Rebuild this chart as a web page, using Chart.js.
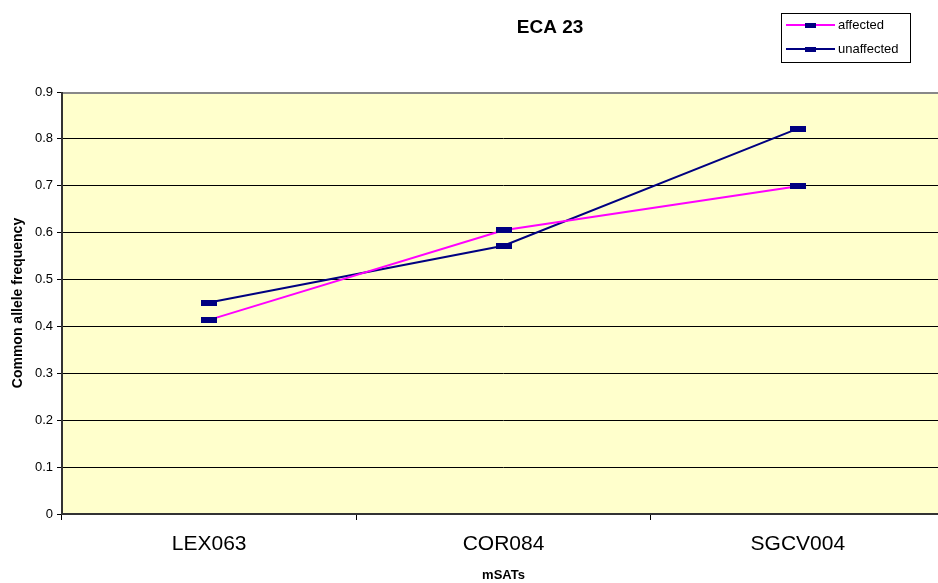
<!DOCTYPE html>
<html>
<head>
<meta charset="utf-8">
<script src="https://cdn.jsdelivr.net/npm/chart.js@4/dist/chart.umd.min.js"></script>
<style>
  html, body { margin: 0; padding: 0; background: #ffffff; overflow: hidden; width: 938px; height: 583px; }
  #wrap { position: relative; width: 955px; height: 583px; }
</style>
</head>
<body>
<div id="wrap"><canvas id="c" width="955" height="583"></canvas></div>
<script>
const chartTitle = 'ECA 23';
const xTitle = 'mSATs';
const yTitle = 'Common allele frequency';
const categories = ['LEX063', 'COR084', 'SGCV004'];
const seriesNames = ['affected', 'unaffected'];
const affected = [0.414, 0.605, 0.699];
const unaffected = [0.451, 0.572, 0.822];
const yTickLabels = ['0', '0.1', '0.2', '0.3', '0.4', '0.5', '0.6', '0.7', '0.8', '0.9'];

const FONT = '"Liberation Sans", Arial, sans-serif';
const colAffected = '#FF00FF';
const colUnaffected = '#000080';
const markerColor = '#000080';

function makeMarker() {
  const m = document.createElement('canvas');
  m.width = 16; m.height = 6;
  const g = m.getContext('2d');
  g.fillStyle = markerColor;
  g.fillRect(0, 0, 16, 6);
  return m;
}
const marker = makeMarker();

const decor = {
  id: 'decor',
  beforeDraw(chart) {
    const { ctx, chartArea: a } = chart;
    ctx.save();
    ctx.fillStyle = '#FFFFCC';
    ctx.fillRect(a.left, a.top, a.right - a.left, a.bottom - a.top);
    ctx.restore();
  },
  afterDraw(chart) {
    const { ctx, chartArea: a } = chart;
    ctx.save();
    ctx.lineWidth = 2;
    ctx.strokeStyle = '#888888';
    ctx.beginPath(); ctx.moveTo(a.left, a.top + 1); ctx.lineTo(a.right, a.top + 1); ctx.stroke();
    ctx.strokeStyle = '#333333';
    ctx.beginPath(); ctx.moveTo(a.left, a.top); ctx.lineTo(a.left, a.bottom + 1); ctx.stroke();
    ctx.beginPath(); ctx.moveTo(a.left - 1, a.bottom); ctx.lineTo(a.right, a.bottom); ctx.stroke();

    ctx.fillStyle = '#000';
    ctx.textAlign = 'center';
    ctx.textBaseline = 'middle';
    ctx.font = 'bold 19px ' + FONT;
    ctx.fillText(chartTitle, 550, 28);
    ctx.font = 'bold 13px ' + FONT;
    ctx.fillText(xTitle, (a.left + a.right) / 2, 575);
    ctx.save();
    ctx.translate(18, (a.top + a.bottom) / 2);
    ctx.rotate(-Math.PI / 2);
    ctx.font = 'bold 14px ' + FONT;
    ctx.fillText(yTitle, 0, 0);
    ctx.restore();

    ctx.fillStyle = '#fff';
    ctx.fillRect(781, 13, 129, 49);
    ctx.lineWidth = 1;
    ctx.strokeStyle = '#000';
    ctx.strokeRect(781.5, 13.5, 129, 49);
    const rows = [[seriesNames[0], colAffected, 25], [seriesNames[1], colUnaffected, 49]];
    ctx.textAlign = 'left';
    ctx.font = '13px ' + FONT;
    rows.forEach(([name, col, y]) => {
      ctx.strokeStyle = col;
      ctx.lineWidth = 2;
      ctx.beginPath(); ctx.moveTo(786, y); ctx.lineTo(835, y); ctx.stroke();
      ctx.fillStyle = markerColor;
      ctx.fillRect(805, y - 2, 11, 5);
      ctx.fillStyle = '#000';
      ctx.fillText(name, 838, y);
    });
    ctx.restore();
  }
};

new Chart(document.getElementById('c'), {
  type: 'line',
  data: {
    labels: categories,
    datasets: [
      { label: seriesNames[0], data: affected, borderColor: colAffected, backgroundColor: markerColor,
        borderWidth: 2, tension: 0, pointStyle: marker, pointRadius: 8 },
      { label: seriesNames[1], data: unaffected, borderColor: colUnaffected, backgroundColor: markerColor,
        borderWidth: 2, tension: 0, pointStyle: marker, pointRadius: 8 }
    ]
  },
  options: {
    responsive: false,
    animation: false,
    devicePixelRatio: 1,
    layout: { padding: { top: 92, right: 4, left: 0, bottom: 0 } },
    plugins: { legend: { display: false }, title: { display: false }, tooltip: { enabled: false } },
    scales: {
      x: {
        type: 'category',
        offset: true,
        afterFit(s) { s.height = 69; },
        border: { display: false },
        grid: { offset: true, drawOnChartArea: false, tickLength: 6, color: '#000', tickColor: '#000', lineWidth: 1 },
        ticks: { color: '#000', font: { family: FONT, size: 21 }, padding: 12, maxRotation: 0, autoSkip: false }
      },
      y: {
        min: 0, max: 0.9,
        afterFit(s) { s.width = 62; },
        afterBuildTicks(s) { s.ticks = yTickLabels.map((t, i) => ({ value: i / 10 })); },
        border: { display: false },
        grid: { color: '#000', tickColor: '#000', lineWidth: 1, tickLength: 5 },
        ticks: { color: '#000', font: { family: FONT, size: 13 }, padding: 4,
                 callback: (v, i) => yTickLabels[i] }
      }
    }
  },
  plugins: [decor]
});
</script>
</body>
</html>
